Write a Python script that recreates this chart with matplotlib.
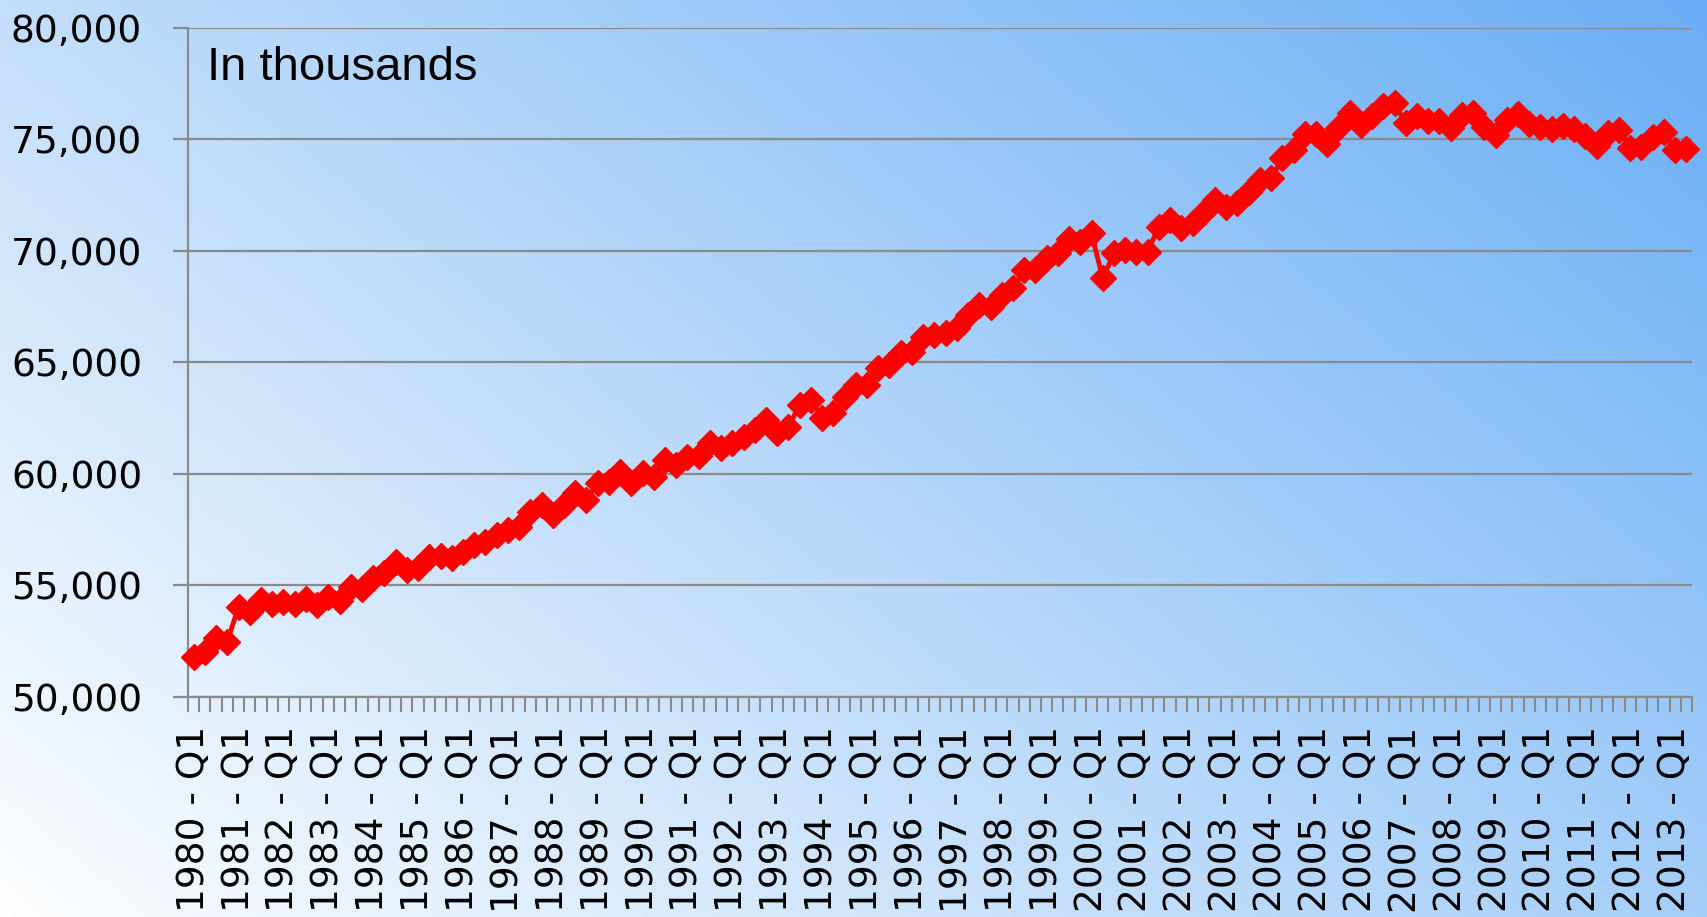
import numpy as np
import matplotlib
matplotlib.use("Agg")
import matplotlib.pyplot as plt
from matplotlib.colors import LinearSegmentedColormap
from matplotlib.ticker import FixedLocator, StrMethodFormatter

# ---- data -------------------------------------------------------------
years = list(range(1980, 2014))
quarters = [f"{y} - Q{q}" for y in years for q in range(1, 5)][:134]

values = [
    # 1980-1985
    51800, 52030, 52630, 52480, 54040, 53820, 54340, 54170, 54270, 54170,
    54370, 54120, 54460, 54300, 54940, 54820, 55320, 55540, 56060, 55700,
    55760, 56280, 56300, 56210,
    # 1986-1991
    56510, 56810, 56960, 57250, 57480, 57630, 58300, 58600, 58150, 58600,
    59120, 58820, 59570, 59640, 60090, 59570, 60020, 59870, 60610, 60390,
    60760,
    # 1991-1996
    60780, 61370, 61150, 61370, 61670, 61970, 62420, 61820, 62120, 63090,
    63310, 62490, 62720, 63460, 63990, 63990, 64730, 64880, 65400, 65480,
    66150, 66220,
    # 1996-2002
    66300, 66520, 67120, 67570, 67490, 68020, 68310, 69130, 69130, 69660,
    69880, 70510, 70400, 70780, 68760, 69880, 70030, 69960, 69960, 71070,
    71370, 71000, 71220,
    # 2002-2007
    71750, 72270, 71970, 72120, 72640, 73160, 73240, 74130, 74510, 75250,
    75250, 74780, 75500, 76170, 75650, 76050, 76470, 76600, 75700, 76030,
    75800, 75800,
    # 2008-2013
    75480, 76080, 76150, 75550, 75200, 75850, 76110, 75670, 75520, 75460,
    75600, 75470, 75140, 74670, 75290, 75400, 74600, 74640, 75100, 75320,
    74500, 74550,
]

y_ticks = [50000, 55000, 60000, 65000, 70000, 75000, 80000]
note_text = "In thousands"

# ---- figure -----------------------------------------------------------
W, H, DPI = 1707, 917, 100
fig = plt.figure(figsize=(W / DPI, H / DPI), dpi=DPI)

# background gradient (white bottom-left -> blue top-right)
bg = fig.add_axes([0, 0, 1, 1], zorder=-10)
xs = np.linspace(0, 1, 400)
ys = np.linspace(0, 1, 220)
XX, YY = np.meshgrid(xs, ys)
T = 0.6 * XX + 0.4 * YY
cmap = LinearSegmentedColormap.from_list("bg", [(0.0, "#fdfeff"), (1.0, "#6aaef5")])
bg.imshow(T, cmap=cmap, origin="lower", extent=[0, 1, 0, 1], aspect="auto",
          vmin=0, vmax=1, interpolation="bilinear")
bg.set_axis_off()

left, right = 188 / W, 1692 / W
bottom, top = 1 - 697 / H, 1 - 27.5 / H
ax = fig.add_axes([left, bottom, right - left, top - bottom])
ax.set_facecolor("none")

x = np.arange(len(values))
ax.plot(x, values, color="#ff0000", lw=3.5, marker="D", ms=13,
        mec="#ff0000", mfc="#ff0000", mew=1, zorder=3, clip_on=False)

grey = "#8a8a8a"
ax.set_xlim(-0.5, len(values) - 0.5)
ax.set_ylim(50000, 80000)
ax.set_yticks(y_ticks)
ax.yaxis.set_major_formatter(StrMethodFormatter("{x:,.0f}"))
ax.grid(axis="y", color=grey, lw=1.6, zorder=1)
ax.set_axisbelow(True)

major_pos = list(range(0, len(values), 4))
ax.set_xticks(major_pos)
ax.set_xticklabels([quarters[i] for i in major_pos], rotation=90,
                   fontsize=27, va="top", ha="center")
ax.xaxis.set_minor_locator(FixedLocator(np.arange(-0.5, len(values), 1.0)))
ax.tick_params(axis="x", which="major", length=0, pad=21)
ax.tick_params(axis="x", which="minor", length=11, width=1.5, color=grey)
ax.tick_params(axis="y", which="major", length=11, width=1.6, color=grey,
               labelsize=27, pad=22)

for s in ["top", "right"]:
    ax.spines[s].set_visible(False)
for s in ["left", "bottom"]:
    ax.spines[s].set_color(grey)
    ax.spines[s].set_linewidth(1.6)

ax.text((207 - 188) / 1504, (697 - 80) / 669.5, note_text,
        transform=ax.transAxes, fontsize=34, family="Liberation Sans",
        va="baseline", ha="left", color="black")

fig.savefig("out.png", dpi=DPI)
